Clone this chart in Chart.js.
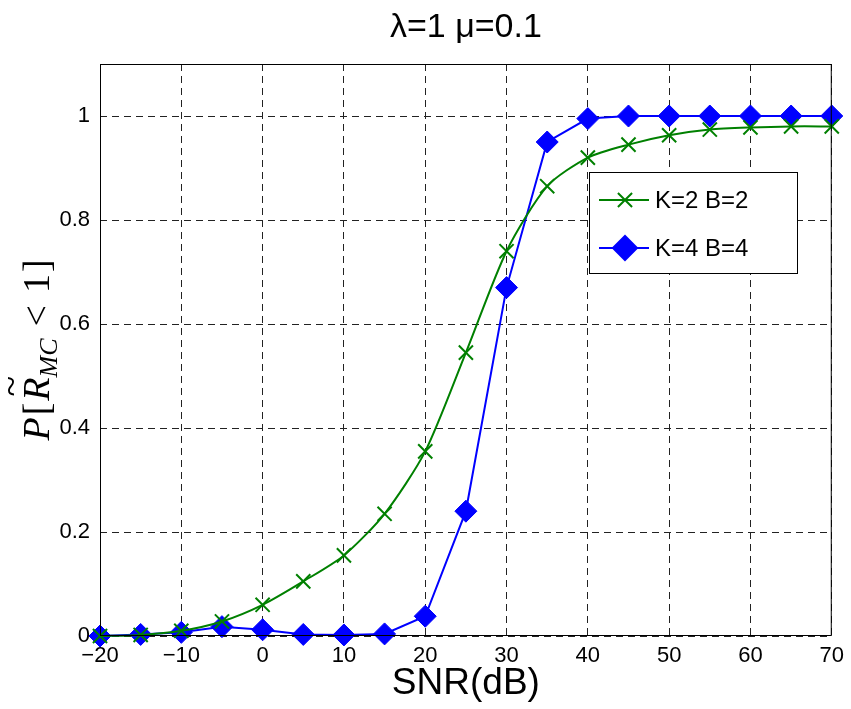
<!DOCTYPE html>
<html>
<head>
<meta charset="utf-8">
<script src="https://cdn.jsdelivr.net/npm/chart.js@4"></script>
<style>
  html, body { margin: 0; padding: 0; background: #fff; }
  #wrap { width: 851px; height: 709px; }
</style>
</head>
<body>
<div id="wrap"><canvas id="snrChart" width="851" height="709"></canvas></div>
<script>
// data
const snr = [-20, -15, -10, -5, 0, 5, 10, 15, 20, 25, 30, 35, 40, 45, 50, 55, 60, 65, 70];
const k2b2 = [0.0, 0.002, 0.01, 0.028, 0.06, 0.105, 0.155, 0.235, 0.355, 0.545, 0.74, 0.865, 0.92, 0.945, 0.963, 0.974, 0.978, 0.98, 0.98];
const k4b4 = [0.0, 0.003, 0.007, 0.018, 0.012, 0.003, 0.002, 0.004, 0.038, 0.24, 0.67, 0.95, 0.995, 1.0, 1.0, 1.0, 1.0, 1.0, 1.0];
const xTicks = [-20, -10, 0, 10, 20, 30, 40, 50, 60, 70];
const yTicks = [0, 0.2, 0.4, 0.6, 0.8, 1];
const seriesNames = ['K=2 B=2', 'K=4 B=4'];

const GREEN = 'rgb(0,128,0)';
const BLUE = 'rgb(0,0,255)';
const SANS = '"Liberation Sans", Arial, sans-serif';

// title, axis labels, frame and legend drawn by hand (matlab look)
const decorPlugin = {
    id: 'decor',
    afterDraw(chart) {
        const { ctx, chartArea: a } = chart;
        ctx.save();
        // frame
        ctx.strokeStyle = '#000';
        ctx.lineWidth = 1;
        ctx.setLineDash([]);
        ctx.strokeRect(a.left + 0.5, a.top + 0.5, a.right - a.left - 1, a.bottom - a.top - 1);

        // title
        ctx.fillStyle = '#000';
        ctx.font = '34px ' + SANS;
        ctx.textAlign = 'center';
        ctx.textBaseline = 'middle';
        ctx.fillText('λ=1 μ=0.1', (a.left + a.right) / 2, 28);

        // x title
        ctx.font = '37px ' + SANS;
        ctx.fillText('SNR(dB)', (a.left + a.right) / 2, 684);

        // y title: P[R~_MC < 1]
        ctx.translate(37, 350);
        ctx.rotate(-Math.PI / 2);
        ctx.textAlign = 'left';
        ctx.textBaseline = 'alphabetic';
        const big = 'italic 38px "Liberation Serif", "DejaVu Serif", serif';
        const up = '38px "Liberation Serif", "DejaVu Serif", serif';
        const sub = 'italic 26px "Liberation Serif", "DejaVu Serif", serif';
        const parts = [
            { t: 'P', f: big, dy: 0, gap: 2 },
            { t: '[', f: up, dy: 0, gap: 2 },
            { t: 'R', f: big, dy: 0, gap: 0, tilde: true },
            { t: 'MC', f: sub, dy: 8, gap: 12 },
            { t: '<', f: up, dy: 0, gap: 12 },
            { t: '1', f: up, dy: 0, gap: 2 },
            { t: ']', f: up, dy: 0, gap: 0 }
        ];
        let total = 0;
        parts.forEach(p => { ctx.font = p.f; p.w = ctx.measureText(p.t).width; total += p.w + p.gap; });
        let x = -total / 2;
        parts.forEach(p => {
            ctx.font = p.f;
            ctx.fillText(p.t, x, 12 + p.dy);
            if (p.tilde) {
                ctx.font = up;
                ctx.textAlign = 'center';
                ctx.fillText('~', x + p.w / 2 + 3, -14);
                ctx.textAlign = 'left';
            }
            x += p.w + p.gap;
        });
        ctx.restore();

        // legend
        ctx.save();
        const lx = 589, ly = 172, lw = 208, lh = 101;
        ctx.fillStyle = '#fff';
        ctx.fillRect(lx, ly, lw, lh);
        ctx.strokeStyle = '#000';
        ctx.lineWidth = 1;
        ctx.strokeRect(lx + 0.5, ly + 0.5, lw, lh);
        const rows = [
            { name: seriesNames[0], color: GREEN, style: 'crossRot', r: 10, y: ly + 28 },
            { name: seriesNames[1], color: BLUE, style: 'rectRot', r: 12, y: ly + 76 }
        ];
        ctx.font = '24px ' + SANS;
        ctx.textBaseline = 'middle';
        ctx.textAlign = 'left';
        rows.forEach(r => {
            ctx.strokeStyle = r.color;
            ctx.lineWidth = 2;
            ctx.beginPath();
            ctx.moveTo(lx + 10, r.y);
            ctx.lineTo(lx + 60, r.y);
            ctx.stroke();
            ctx.fillStyle = r.color;
            Chart.helpers.drawPoint(ctx, { pointStyle: r.style, radius: r.r, borderWidth: 2 }, lx + 36, r.y);
            if (r.style === 'rectRot') ctx.fill();
            ctx.fillStyle = '#000';
            ctx.fillText(r.name, lx + 66, r.y + 1);
        });
        ctx.restore();
    }
};

const chart = new Chart(document.getElementById('snrChart').getContext('2d'), {
    type: 'line',
    data: {
        labels: snr,
        datasets: [{
            label: seriesNames[0],
            data: snr.map((x, i) => ({ x: x, y: k2b2[i] })),
            borderColor: GREEN,
            backgroundColor: GREEN,
            borderWidth: 2,
            pointStyle: 'crossRot',
            pointRadius: 10,
            pointBorderWidth: 2,
            tension: 0.25,
            fill: false
        }, {
            label: seriesNames[1],
            data: snr.map((x, i) => ({ x: x, y: k4b4[i] })),
            borderColor: BLUE,
            backgroundColor: BLUE,
            borderWidth: 2,
            pointStyle: 'rectRot',
            pointRadius: 11,
            pointBorderWidth: 1,
            tension: 0,
            fill: false
        }]
    },
    options: {
        responsive: false,
        animation: false,
        clip: false,
        layout: { padding: { top: 64, right: 19, left: 0, bottom: 0 } },
        plugins: { legend: { display: false }, title: { display: false }, tooltip: { enabled: false } },
        scales: {
            x: {
                type: 'linear',
                min: -20,
                max: 70,
                afterFit(s) { s.height = 73; },
                afterBuildTicks(s) { s.ticks = xTicks.map(v => ({ value: v })); },
                ticks: {
                    padding: 7,
                    color: '#000',
                    maxRotation: 0,
                    font: { family: SANS, size: 22 },
                    callback: v => (v < 0 ? '\u2212' + Math.abs(v) : String(v))
                },
                grid: { color: '#222', lineWidth: 1, drawTicks: false },
                border: { display: false, dash: [7, 5] }
            },
            y: {
                min: 0,
                max: 1.1,
                afterFit(s) { s.width = 100; },
                afterBuildTicks(s) { s.ticks = yTicks.map(v => ({ value: v })); },
                ticks: {
                    padding: 10,
                    color: '#000',
                    font: { family: SANS, size: 22 },
                    callback: v => String(Math.round(v * 10) / 10)
                },
                grid: { color: '#222', lineWidth: 1, drawTicks: false },
                border: { display: false, dash: [7, 5] }
            }
        }
    },
    plugins: [decorPlugin]
});
</script>
</body>
</html>
